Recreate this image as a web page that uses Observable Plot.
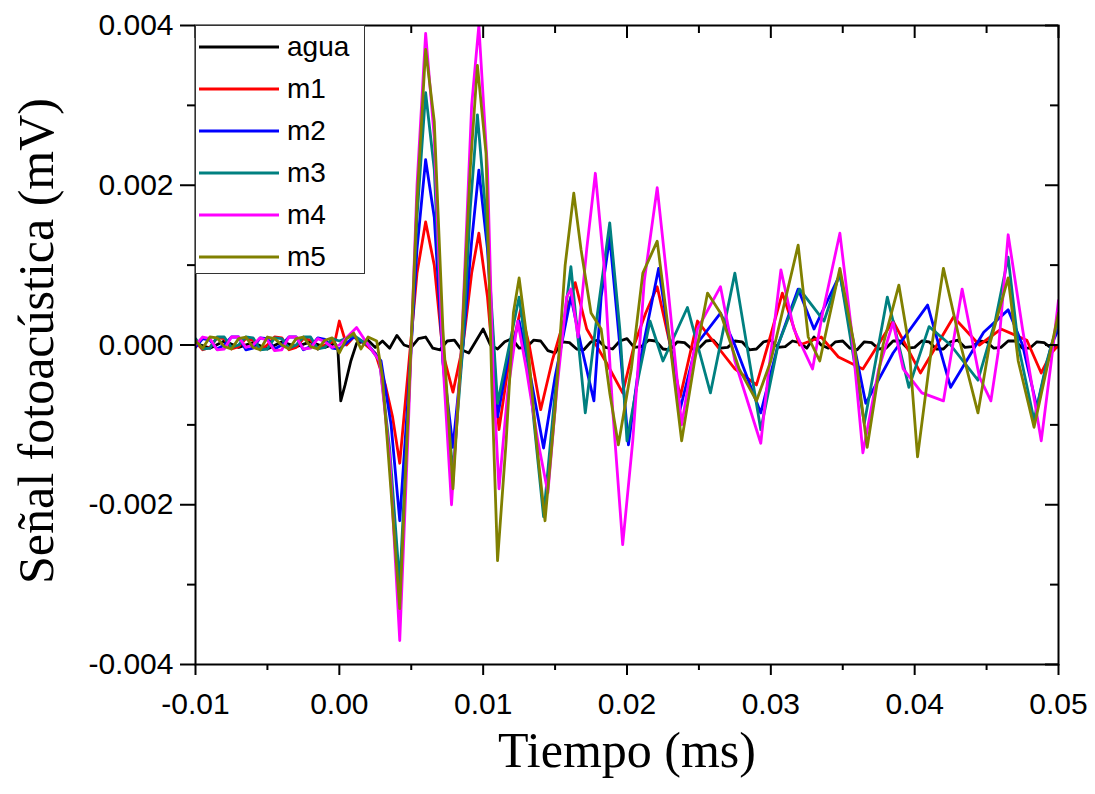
<!DOCTYPE html>
<html>
<head>
<meta charset="utf-8">
<script src="https://cdn.jsdelivr.net/npm/d3@7"></script>
<script src="https://cdn.jsdelivr.net/npm/@observablehq/plot@0.6"></script>
<style>
  html, body { margin: 0; padding: 0; background: #fff; }
  #wrap { position: relative; width: 1095px; height: 794px; }
  #legend { position: absolute; left: 195px; top: 25px; width: 170px; height: 249px;
            border: 1.5px solid #333; background: #fff; box-sizing: border-box;
            font-family: "Liberation Sans", Arial, sans-serif; font-size: 28px; }
  .row { position: absolute; left: 0; height: 42px; display: flex; align-items: center; }
  .row svg { margin-left: 3px; }
  .row span { margin-left: 8px; line-height: 1; }
</style>
</head>
<body>
<div id="wrap"></div>
<script>
// ---- data (time in ms, signal in mV) ----
const seriesNames = ["agua", "m1", "m2", "m3", "m4", "m5"];
const seriesColors = ["#000000", "#ff0000", "#0000ff", "#008080", "#ff00ff", "#808000"];

const agua = [[-0.01,0.00002],[-0.009,-0.00004],[-0.008,0.00005],[-0.007,-0.00003],[-0.006,0.00003],[-0.005,-0.00005],[-0.004,0.00004],[-0.003,-0.00002],[-0.002,0.00004],[-0.001,-0.00003],[-0.0003,0.00002],[-0.0001,-0.00006],[0.0001,-0.0007],[0.0004,-0.0005],[0.0008,-0.0002],[0.0012,0.00002],[0.002,0.00006],[0.0025,-0.00003],[0.003,0.00005],[0.0035,-0.00004],[0.004,0.00012],[0.0045,0.0],[0.005,-0.00003],[0.0055,0.00008],[0.006,0.0001],[0.0065,-0.00004],[0.007,-0.00006],[0.0075,0.00005],[0.008,0.00006],[0.0085,-0.00006],[0.009,-0.0001],[0.0095,0.00005],[0.01,0.0002],[0.0105,0.0],[0.011,-0.00005],[0.0115,0.00004],[0.012,0.00008],[0.0125,-0.00004],[0.013,-0.00003],[0.0135,0.00006],[0.014,0.00005],[0.0145,-0.00007],[0.015,-0.0001],[0.0155,0.00004],[0.016,0.00003],[0.0165,-0.00005],[0.017,-0.00006],[0.0175,0.00004],[0.018,0.00006],[0.0185,-0.00003],[0.019,-0.00005],[0.0195,0.00005],[0.02,0.00008],[0.0205,-0.00003],[0.021,-0.00002],[0.0215,0.00006],[0.022,0.00005],[0.0225,-0.00005],[0.023,-0.00006],[0.0235,0.00004],[0.024,0.00003],[0.0245,-0.00005],[0.025,-0.00004],[0.0255,0.00005],[0.026,0.00006],[0.0265,-0.00004],[0.027,-0.00003],[0.0275,0.00005],[0.028,0.00004],[0.0285,-0.00006],[0.029,-0.00005],[0.0295,0.00004],[0.03,0.00006],[0.0305,-0.00003],[0.031,-0.00002],[0.0315,0.00005],[0.032,0.00003],[0.0325,-0.00004],[0.033,0.0001],[0.0335,0.0],[0.034,-0.00004],[0.0345,0.00004],[0.035,0.00005],[0.0355,-0.00004],[0.036,-0.00006],[0.0365,0.00004],[0.037,0.00003],[0.0375,-0.00005],[0.038,-0.00004],[0.0385,0.00005],[0.039,0.00005],[0.0395,-0.00004],[0.04,-0.00003],[0.0405,0.00005],[0.041,0.00004],[0.0415,-0.00005],[0.042,-0.00005],[0.0425,0.00004],[0.043,0.00006],[0.0435,-0.00003],[0.044,-0.00002],[0.0445,0.00005],[0.045,0.00004],[0.0455,-0.00004],[0.046,-0.00003],[0.0465,0.00005],[0.047,0.00005],[0.0475,-0.00004],[0.048,-0.00004],[0.0485,0.00004],[0.049,0.00003],[0.0495,-0.00004],[0.05,-0.00002]];

const m1 = [[-0.01,0.00004],[-0.0095,-0.00006],[-0.009,-0.00003],[-0.0085,0.00009],[-0.008,0.00008],[-0.0075,-0.00005],[-0.007,-0.00002],[-0.0065,0.00008],[-0.006,0.00006],[-0.0055,-0.00006],[-0.005,0.0],[-0.0045,0.0001],[-0.004,0.00009],[-0.0035,-0.00006],[-0.003,-0.00003],[-0.0025,0.00008],[-0.002,0.00006],[-0.0015,-0.00005],[-0.001,0.0],[-0.0003,0.00005],[0.0,0.0003],[0.0005,0.0],[0.001,0.0001],[0.0015,0.00005],[0.0025,-0.0001],[0.0032,-0.0005],[0.0037,-0.0009],[0.0042,-0.00148],[0.0048,-0.0003],[0.0054,0.0009],[0.006,0.00154],[0.0066,0.001],[0.0072,-0.0001],[0.0079,-0.00059],[0.0086,0.0],[0.0092,0.0009],[0.0097,0.0014],[0.0103,0.0006],[0.0111,-0.00106],[0.0118,-0.0002],[0.0126,0.00044],[0.0132,0.0],[0.014,-0.00081],[0.0148,-0.0002],[0.0156,0.0003],[0.0164,0.00078],[0.0172,0.0002],[0.0185,-0.0002],[0.0197,-0.0006],[0.0205,0.0],[0.0213,0.0004],[0.0221,0.00073],[0.023,0.0],[0.0237,-0.00065],[0.0249,0.0003],[0.0262,0.0],[0.0275,-0.0003],[0.029,-0.0005],[0.0298,0.0],[0.0308,0.00065],[0.032,0.0],[0.0335,0.0001],[0.0347,-0.00015],[0.0364,-0.0003],[0.0385,0.0003],[0.0404,-0.00035],[0.0427,0.00035],[0.0445,0.0],[0.046,0.0002],[0.0478,0.00006],[0.0488,-0.00035],[0.0495,-0.0001],[0.05,0.0]];

const m2 = [[-0.01,-0.00003],[-0.0095,0.00008],[-0.009,0.00006],[-0.0085,-0.00005],[-0.008,0.0],[-0.0075,0.0001],[-0.007,0.0001],[-0.0065,-0.00006],[-0.006,-0.00004],[-0.0055,0.00009],[-0.005,0.00008],[-0.0045,-0.00005],[-0.004,0.0],[-0.0035,0.0001],[-0.003,0.0001],[-0.0025,-0.00006],[-0.002,-0.00002],[-0.0015,0.00009],[-0.001,0.00007],[-0.0005,-0.00004],[0.0,-0.00005],[0.001,0.0001],[0.002,0.0],[0.0029,-0.0002],[0.0036,-0.001],[0.0042,-0.0022],[0.0048,-0.0006],[0.0054,0.0012],[0.006,0.00232],[0.0066,0.0016],[0.0072,-0.0002],[0.0079,-0.00128],[0.0086,0.0],[0.0092,0.0013],[0.0097,0.00219],[0.0103,0.0012],[0.011,-0.0009],[0.0117,-0.0002],[0.0125,0.0003],[0.0133,-0.0004],[0.0142,-0.00129],[0.015,-0.0004],[0.0161,0.0006],[0.0168,0.0],[0.0177,-0.0007],[0.0182,0.0006],[0.0188,0.00135],[0.0195,0.0],[0.0201,-0.00125],[0.0208,-0.0003],[0.0222,0.00096],[0.023,0.0],[0.0237,-0.0008],[0.0248,0.0],[0.0265,0.0004],[0.0275,0.0],[0.0293,-0.00085],[0.0305,0.0],[0.0319,0.0007],[0.033,0.0002],[0.0348,0.00088],[0.0366,-0.00073],[0.0385,-0.0001],[0.0409,0.0005],[0.0425,-0.00053],[0.0448,0.00016],[0.0465,0.00044],[0.0475,0.0],[0.0485,-0.00078],[0.0495,0.0],[0.05,0.0002]];

const m3 = [[-0.01,0.00008],[-0.0095,-0.00005],[-0.009,-0.00004],[-0.0085,0.0001],[-0.008,0.0001],[-0.0075,-0.00003],[-0.007,0.0],[-0.0065,0.0001],[-0.006,0.00009],[-0.0055,-0.00006],[-0.005,-0.00005],[-0.0045,0.00009],[-0.004,0.00008],[-0.0035,-0.00004],[-0.003,0.0],[-0.0025,0.0001],[-0.002,0.0001],[-0.0015,-0.00005],[-0.001,-0.00003],[-0.0005,0.00008],[0.0,0.00005],[0.001,0.00012],[0.002,0.0],[0.0028,-0.0002],[0.0035,-0.0013],[0.0042,-0.003],[0.0048,-0.0008],[0.0054,0.0016],[0.006,0.00316],[0.0066,0.0022],[0.0072,-0.0002],[0.0079,-0.0016],[0.0086,0.0],[0.0091,0.0017],[0.0096,0.00288],[0.0102,0.0016],[0.011,-0.00073],[0.0116,-0.0002],[0.0125,0.0006],[0.0131,-0.0002],[0.0142,-0.00215],[0.015,-0.0006],[0.0161,0.00098],[0.0171,-0.00085],[0.0178,0.0002],[0.0188,0.00153],[0.0195,0.0002],[0.02,-0.0012],[0.0208,-0.0004],[0.0216,0.0003],[0.0225,-0.0002],[0.0242,0.00047],[0.0258,-0.0006],[0.0275,0.0009],[0.0293,-0.00106],[0.0305,0.0],[0.032,0.0007],[0.0337,0.0003],[0.0348,0.0009],[0.0365,-0.00098],[0.0381,0.0006],[0.0396,-0.00053],[0.041,0.00023],[0.0425,0.0],[0.0444,-0.00044],[0.0456,0.0003],[0.0465,0.0011],[0.0472,0.0],[0.0483,-0.00094],[0.0492,-0.0002],[0.05,0.0003]];

const m4 = [[-0.01,0.0],[-0.0095,0.0001],[-0.009,0.00008],[-0.0085,-0.00006],[-0.008,-0.00005],[-0.0075,0.0001],[-0.007,0.0001],[-0.0065,-0.00003],[-0.006,0.0],[-0.0055,0.00009],[-0.005,0.00006],[-0.0045,-0.00007],[-0.004,-0.00006],[-0.0035,0.0001],[-0.003,0.0001],[-0.0025,-0.00005],[-0.002,-0.00004],[-0.0015,0.00008],[-0.001,0.00004],[-0.0005,-0.00003],[0.0,0.0],[0.0012,0.00022],[0.002,0.0],[0.0028,-0.0002],[0.0035,-0.0014],[0.0042,-0.0037],[0.0048,-0.001],[0.0054,0.002],[0.006,0.0039],[0.0066,0.0026],[0.0072,-0.0002],[0.0078,-0.002],[0.0085,0.0],[0.0092,0.003],[0.0097,0.004],[0.0103,0.0022],[0.0107,-0.0004],[0.0111,-0.0018],[0.0117,-0.0006],[0.0124,0.0003],[0.013,-0.0003],[0.0138,-0.0012],[0.0145,-0.00185],[0.0151,-0.0006],[0.0158,0.0006],[0.0161,0.0007],[0.0166,0.0001],[0.0172,0.0012],[0.0178,0.00215],[0.0184,0.001],[0.019,-0.0008],[0.0197,-0.0025],[0.0204,-0.0012],[0.0212,0.0008],[0.0221,0.00197],[0.0228,0.0008],[0.0238,-0.001],[0.0249,0.0002],[0.0265,0.00073],[0.0275,-0.0002],[0.0293,-0.00123],[0.0298,-0.0004],[0.0307,0.00094],[0.0316,0.0002],[0.0329,-0.0003],[0.0336,0.0004],[0.0348,0.0014],[0.0356,0.0002],[0.0364,-0.00135],[0.0375,-0.0003],[0.0385,0.00028],[0.0392,-0.0003],[0.0405,-0.0006],[0.042,-0.0007],[0.0433,0.0007],[0.0445,-0.0004],[0.0453,-0.0007],[0.0458,-0.0001],[0.0465,0.00138],[0.0475,0.0002],[0.0488,-0.0012],[0.0495,-0.0002],[0.05,0.00056]];

const m5 = [[-0.01,0.00005],[-0.0095,-0.00004],[-0.009,0.0001],[-0.0085,0.00009],[-0.008,-0.00002],[-0.0075,-0.00005],[-0.007,0.00008],[-0.0065,0.0001],[-0.006,-0.00003],[-0.0055,-0.00006],[-0.005,0.0001],[-0.0045,0.00008],[-0.004,0.0],[-0.0035,-0.00005],[-0.003,0.00008],[-0.0025,0.0001],[-0.002,-0.00002],[-0.0015,-0.00005],[-0.001,0.00006],[-0.0005,0.00009],[0.0,-0.0001],[0.0005,0.00008],[0.001,0.00015],[0.0015,-0.00005],[0.002,0.0001],[0.0026,0.00005],[0.003,-0.0004],[0.0035,-0.0016],[0.0042,-0.0033],[0.0048,-0.0008],[0.0054,0.0018],[0.006,0.0037],[0.0066,0.0028],[0.0072,0.0002],[0.0079,-0.0018],[0.0085,0.0],[0.0091,0.0022],[0.0096,0.0035],[0.0102,0.0024],[0.0106,-0.0005],[0.011,-0.0027],[0.0116,-0.0012],[0.0121,0.0004],[0.0125,0.00084],[0.0131,0.0],[0.0137,-0.0012],[0.0143,-0.0022],[0.015,-0.0008],[0.0157,0.001],[0.0163,0.0019],[0.0168,0.0012],[0.0175,0.0004],[0.0182,0.0002],[0.0188,-0.0006],[0.0194,-0.00125],[0.0203,-0.0003],[0.0211,0.0009],[0.0221,0.0013],[0.0228,0.0003],[0.0238,-0.0012],[0.0247,-0.0002],[0.0256,0.00065],[0.0265,0.0004],[0.0278,-0.0003],[0.029,-0.0007],[0.03,-0.0002],[0.0319,0.00125],[0.0326,0.0001],[0.0334,-0.0002],[0.0348,0.00096],[0.0358,0.0],[0.0367,-0.00128],[0.0378,0.0],[0.0389,0.00075],[0.0396,0.0],[0.0402,-0.0014],[0.0412,0.0],[0.042,0.00096],[0.0432,0.0],[0.0444,-0.00085],[0.0452,0.0],[0.0465,0.00084],[0.0472,-0.0002],[0.0483,-0.00103],[0.0493,-0.0002],[0.05,0.0004]];

const seriesData = [agua, m1, m2, m3, m4, m5];

const xMajor = [-0.01, 0, 0.01, 0.02, 0.03, 0.04, 0.05];
const xMinor = [-0.005, 0.005, 0.015, 0.025, 0.035, 0.045];
const yMajor = [-0.004, -0.002, 0, 0.002, 0.004];
const yMinor = [-0.003, -0.001, 0.001, 0.003];
const xTitle = "Tiempo (ms)";
const yTitle = "Señal fotoacústica (mV)";

// ---- chart ----
const table = seriesData.flatMap((arr, i) => arr.map(([t, v]) => ({series: seriesNames[i], t, v})));

const sans = "'Liberation Sans', Arial, sans-serif";
const serif = "'Liberation Serif', 'Times New Roman', serif";

const lineMarks = seriesNames.map((name, i) =>
  Plot.line(table.filter(d => d.series === name), {x: "t", y: "v", stroke: seriesColors[i], strokeWidth: 2.8, clip: true})
);

const chart = Plot.plot({
  width: 1095,
  height: 794,
  marginLeft: 195,
  marginRight: 37,
  marginTop: 25,
  marginBottom: 130,
  style: {background: "#fff", fontFamily: sans, color: "#000"},
  x: {domain: [-0.01, 0.05]},
  y: {domain: [-0.004, 0.004]},
  marks: [
    ...lineMarks,
    Plot.frame({stroke: "#000", strokeWidth: 2}),
    Plot.axisX({ticks: xMajor, tickSize: 11, tickPadding: 17, tickFormat: d => d.toFixed(2), fontSize: 30, label: null, strokeWidth: 2}),
    Plot.axisX({ticks: xMinor, tickSize: 6, tickFormat: () => "", label: null, strokeWidth: 2}),
    Plot.axisY({ticks: yMajor, tickSize: 15, tickPadding: 7, tickFormat: d => d.toFixed(3), fontSize: 30, label: null, strokeWidth: 2}),
    Plot.axisY({ticks: yMinor, tickSize: 8, tickFormat: () => "", label: null, strokeWidth: 2}),
    Plot.tickX(xMajor, {x: d => d, insetBottom: 639 - 13, strokeWidth: 2}),
    Plot.tickX(xMinor, {x: d => d, insetBottom: 639 - 8, strokeWidth: 2}),
    Plot.tickY(yMajor, {y: d => d, insetLeft: 863 - 13, strokeWidth: 2}),
    Plot.tickY(yMinor, {y: d => d, insetLeft: 863 - 8, strokeWidth: 2}),
    Plot.text([xTitle], {frameAnchor: "bottom", textAnchor: "middle", dy: 102, fontSize: 50, fontFamily: serif, text: d => d}),
    Plot.text([yTitle], {frameAnchor: "left", textAnchor: "middle", rotate: -90, dx: -159, dy: -4, fontSize: 50, fontFamily: serif, text: d => d})
  ]
});

const wrap = document.getElementById("wrap");
wrap.appendChild(chart);

// legend
const legend = document.createElement("div");
legend.id = "legend";
seriesNames.forEach((name, i) => {
  const row = document.createElement("div");
  row.className = "row";
  row.style.top = (i * 42) + "px";
  row.innerHTML = `<svg width="80" height="6"><line x1="0" y1="3" x2="80" y2="3" stroke="${seriesColors[i]}" stroke-width="3"/></svg><span>${name}</span>`;
  legend.appendChild(row);
});
wrap.appendChild(legend);
</script>
</body>
</html>
